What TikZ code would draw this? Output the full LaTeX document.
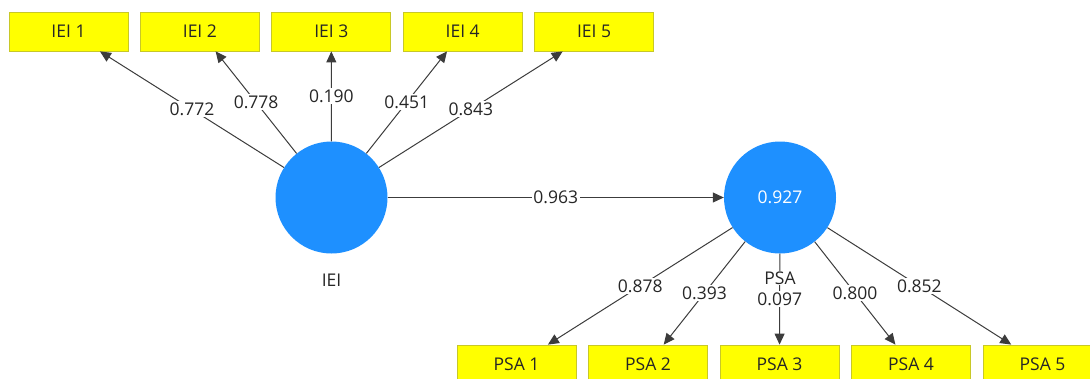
\documentclass[tikz,border=0pt]{standalone}
\usepackage{fontspec}
\setmainfont{Open Sans}
\usetikzlibrary{arrows.meta}
\definecolor{latentblue}{RGB}{30,144,255}
\definecolor{itemyellow}{RGB}{255,255,0}
\definecolor{itemborder}{RGB}{200,200,40}
\definecolor{pathgray}{RGB}{60,60,60}
\newcommand{\labelfont}{\fontsize{17.5}{19}\selectfont}
\tikzset{
  item/.style={draw=itemborder, fill=itemyellow, line width=0.8pt,
    minimum width=119pt, minimum height=39pt, inner sep=0pt,
    font=\labelfont, text=black!85},
  latent/.style={circle, fill=latentblue, minimum size=112pt, inner sep=0pt,
    font=\labelfont, text=white},
  loading/.style={draw=pathgray, line width=1pt,
    -{Triangle[length=11pt,width=10pt]}},
  weight/.style={fill=white, inner sep=1.5pt, midway,
    font=\labelfont, text=black!85},
  caption/.style={fill=white, inner sep=1.5pt,
    font=\labelfont, text=black!85}
}
\begin{document}
\begin{tikzpicture}[x=1pt, y=-1pt]
  \useasboundingbox (0,0) rectangle (1090,378);
  \clip (0,0) rectangle (1090,378);

  % indicator boxes of the exogenous construct
  \foreach \i/\x in {1/68.5, 2/199.9, 3/331.3, 4/462.7, 5/594.1}
    \node[item] (iei\i) at (\x,31.5) {IEI \i};

  % indicator boxes of the endogenous construct
  \foreach \i/\x in {1/516.5, 2/648, 3/779.5, 4/911, 5/1042.5}
    \node[item] (psa\i) at (\x,364.5) {PSA \i};

  % constructs
  \node[latent] (iei) at (331.5,197.5) {};
  \node[latent] (psa) at (780,197.5) {0.927};

  % outer loadings
  \draw[loading] (iei) -- node[weight] {0.772} (iei1);
  \draw[loading] (iei) -- node[weight] {0.778} (iei2);
  \draw[loading] (iei) -- node[weight] {0.190} (iei3);
  \draw[loading] (iei) -- node[weight] {0.451} (iei4);
  \draw[loading] (iei) -- node[weight] {0.843} (iei5);

  \draw[loading] (psa) -- node[weight] {0.878} (psa1);
  \draw[loading] (psa) -- node[weight] {0.393} (psa2);
  \draw[loading] (psa) -- node[weight] {0.097} (psa3);
  \draw[loading] (psa) -- node[weight] {0.800} (psa4);
  \draw[loading] (psa) -- node[weight] {0.852} (psa5);

  % structural path
  \draw[loading] (iei) -- node[weight] {0.963} (psa);

  % construct names
  \node[caption] (ieiname) at (331.5,280) {IEI};
  \node[caption, inner sep=0.5pt] (psaname) at (780,278) {PSA};
\end{tikzpicture}
\end{document}
